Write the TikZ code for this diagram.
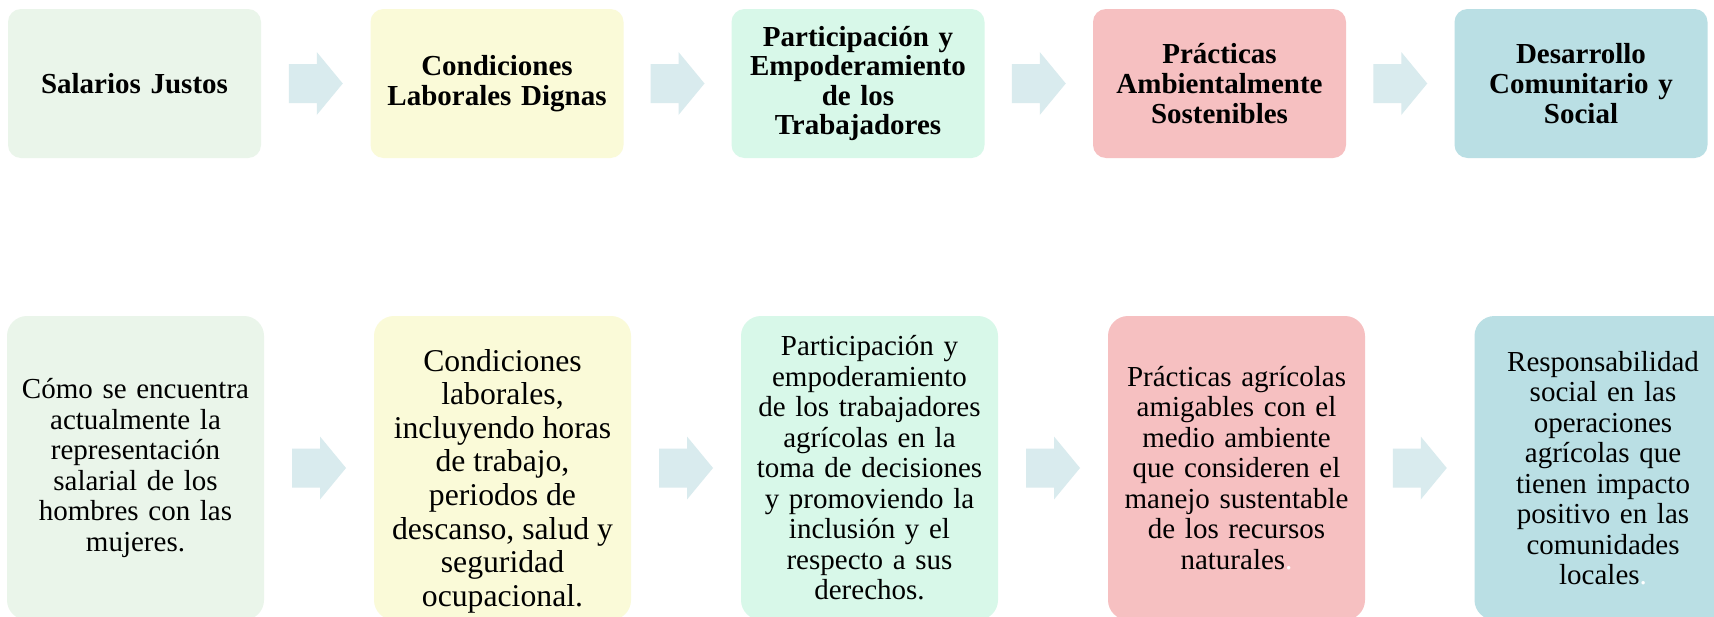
\documentclass[tikz,border=0pt]{standalone}
\usepackage{fontspec}
\setmainfont{Liberation Serif}
\definecolor{cA}{HTML}{EAF5EA}
\definecolor{cB}{HTML}{FAFAD8}
\definecolor{cC}{HTML}{D8F8E9}
\definecolor{cD}{HTML}{F6C0C1}
\definecolor{cE}{HTML}{BADFE4}
\definecolor{arrowcol}{HTML}{D9EBEE}
\tikzset{
  topbox/.style={rectangle, rounded corners=13pt, minimum width=253pt, minimum height=149pt,
    text width=243pt, align=center, inner sep=0pt,
    font=\fontsize{29}{29.6}\selectfont\bfseries},
  botbox/.style={rectangle, rounded corners=20pt, minimum width=257pt, minimum height=304pt,
    text width=247pt, align=center, inner sep=0pt,
    font=\fontsize{29}{30.5}\selectfont},
  bigtext/.style={align=center, inner sep=0pt, font=\fontsize{31.7}{33.6}\selectfont},
  blockarrow/.style={fill=arrowcol}
}
\newcommand\flowarrow[1]{\fill[blockarrow, shift={(#1)}] (-27,-19.5) -- (1,-19.5) -- (1,-31.5) -- (27,0) -- (1,31.5) -- (1,19.5) -- (-27,19.5) -- cycle;}
\begin{document}
\begin{tikzpicture}[x=1pt,y=-1pt]
\useasboundingbox (0,0) rectangle (1714,616);
\clip (0,0) rectangle (1714,616);
\fill[white] (0,0) rectangle (1714,616);
% top row
\node[topbox, fill=cA] (t1) at (134.5,83.5) {Salarios Justos};
\node[topbox, fill=cB] (t2) at (497,83.5) {Condiciones\\Laborales Dignas};
\node[topbox, fill=cC] (t3) at (858,83.5) {Participación y\\Empoderamiento\\de los\\Trabajadores};
\node[topbox, fill=cD] (t4) at (1219.5,83.5) {Prácticas\\Ambientalmente\\Sostenibles};
\node[topbox, fill=cE] (t5) at (1581,83.5) {Desarrollo\\Comunitario y\\Social};
% bottom row
\node[botbox, fill=cA] (b1) at (135.5,468) {Cómo se encuentra\\actualmente la\\representación\\salarial de los\\hombres con las\\mujeres.};
\node[botbox, fill=cB] (b2) at (502.5,468) {};
\node[bigtext] (b2text) at ([yshift=-13pt]b2.center) {Condiciones\\laborales,\\incluyendo horas\\de trabajo,\\periodos de\\descanso, salud y\\seguridad\\ocupacional.};
\node[botbox, fill=cC] (b3) at (869.5,468) {Participación y\\empoderamiento\\de los trabajadores\\agrícolas en la\\toma de decisiones\\y promoviendo la\\inclusión y el\\respecto a sus\\derechos.};
\node[botbox, fill=cD] (b4) at (1236.5,468) {Prácticas agrícolas\\amigables con el\\medio ambiente\\que consideren el\\manejo sustentable\\de los recursos\\naturales\textcolor{white}{.}};
\node[botbox, fill=cE] (b5) at (1603,468) {Responsabilidad\\social en las\\operaciones\\agrícolas que\\tienen impacto\\positivo en las\\comunidades\\locales\textcolor{white}{.}};
% arrow positions
\foreach \r in {t,b}{
  \foreach \i/\j in {1/2,2/3,3/4,4/5}{
    \path (\r\i.east) -- (\r\j.west) coordinate[midway] (a\r\i);
  }
}
\foreach \r in {t,b}{
  \foreach \i in {1,2,3,4}{
    \flowarrow{a\r\i}
  }
}
\end{tikzpicture}
\end{document}
